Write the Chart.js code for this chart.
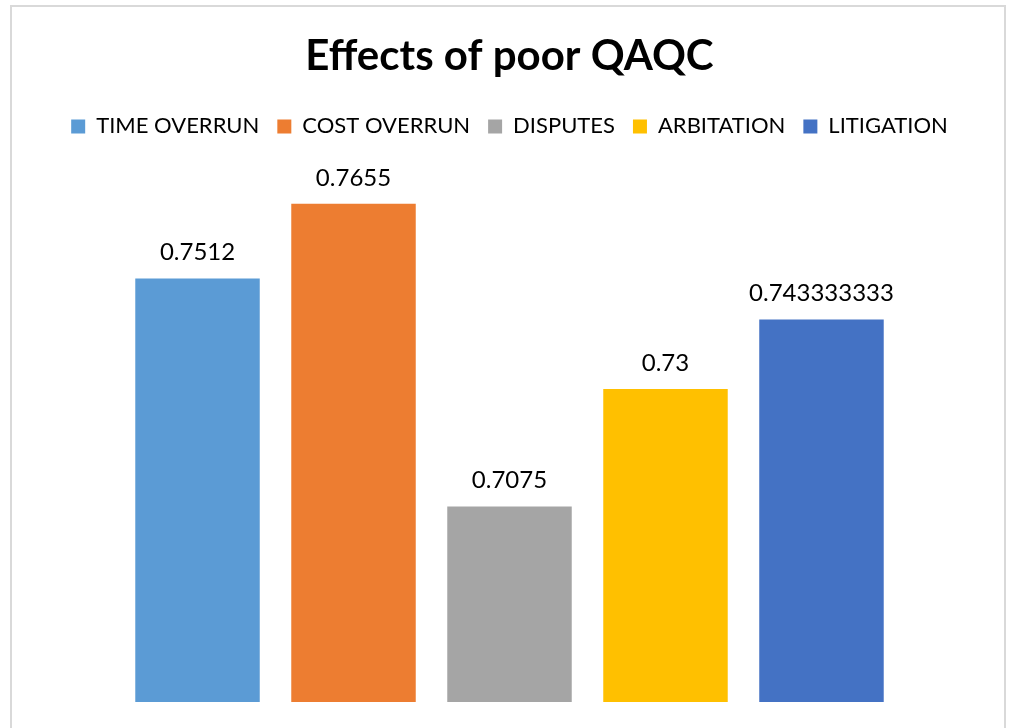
<!DOCTYPE html>
<html>
<head>
<meta charset="utf-8">
<title>Effects of poor QAQC</title>
<script src="https://cdn.jsdelivr.net/npm/chart.js@4.4.1/dist/chart.umd.min.js"></script>
<style>
  html, body { margin: 0; padding: 0; background: #ffffff; }
  #wrap { width: 1011px; height: 728px; position: relative; }
</style>
</head>
<body>
<div id="wrap"><canvas id="chart" width="1011" height="728"></canvas></div>
<script>
// Series shown in the chart (one bar per series)
const seriesNames = ['TIME OVERRUN', 'COST OVERRUN', 'DISPUTES', 'ARBITATION', 'LITIGATION'];
const seriesValues = [0.7512, 0.7655, 0.7075, 0.73, 0.743333333];
const seriesColors = ['#5B9BD5', '#ED7D31', '#A5A5A5', '#FFC000', '#4472C4'];
const categories = [''];
const axisMin = 0.67;
const axisMax = 0.77;

const FONT = 'Lato';
Chart.defaults.font.family = FONT;
Chart.defaults.color = '#000000';

// Light grey frame around the whole chart
const framePlugin = {
  id: 'frame',
  beforeDraw(chart) {
    const ctx = chart.ctx;
    ctx.save();
    ctx.fillStyle = '#ffffff';
    ctx.fillRect(0, 0, chart.width, chart.height);
    ctx.strokeStyle = '#d9d9d9';
    ctx.lineWidth = 2;
    ctx.strokeRect(11, 6, 994, chart.height + 20);
    ctx.restore();
  }
};

// Extra room between the legend row and the plot
const legendGapPlugin = {
  id: 'legendGap',
  beforeInit(chart) {
    const legend = chart.legend;
    if (!legend) return;
    const fit = legend.fit;
    legend.fit = function () {
      fit.call(this);
      this.height += 33;
    };
  }
};

// Value labels above each bar
const valueLabelPlugin = {
  id: 'valueLabels',
  afterDatasetsDraw(chart) {
    const ctx = chart.ctx;
    ctx.save();
    ctx.font = '24px ' + FONT;
    ctx.fillStyle = '#000000';
    ctx.textAlign = 'center';
    ctx.textBaseline = 'alphabetic';
    chart.data.datasets.forEach((ds, i) => {
      const meta = chart.getDatasetMeta(i);
      meta.data.forEach((bar, j) => {
        ctx.fillText(String(ds.data[j]), bar.x, bar.y - 18);
      });
    });
    ctx.restore();
  }
};

const datasets = seriesNames.map((name, i) => ({
  label: name,
  data: [seriesValues[i]],
  backgroundColor: seriesColors[i],
  borderWidth: 0,
  barPercentage: 0.798,
  categoryPercentage: 0.7967
}));

new Chart(document.getElementById('chart'), {
  type: 'bar',
  data: { labels: categories, datasets: datasets },
  options: {
    responsive: false,
    animation: false,
    devicePixelRatio: 1,
    layout: { padding: { left: 20, right: 12, top: 0, bottom: 26 } },
    scales: {
      x: { display: false },
      y: { display: false, min: axisMin, max: axisMax }
    },
    plugins: {
      tooltip: { enabled: false },
      title: {
        display: true,
        text: 'Effects of poor QAQC',
        color: '#000000',
        font: { family: FONT, size: 42, weight: 'bold', lineHeight: 1.2 },
        padding: { top: 31, bottom: 16 }
      },
      legend: {
        display: true,
        position: 'top',
        labels: {
          color: '#000000',
          font: { family: FONT, size: 22 },
          boxWidth: 14,
          boxHeight: 14,
          padding: 18
        }
      }
    }
  },
  plugins: [framePlugin, legendGapPlugin, valueLabelPlugin]
});
</script>
</body>
</html>
